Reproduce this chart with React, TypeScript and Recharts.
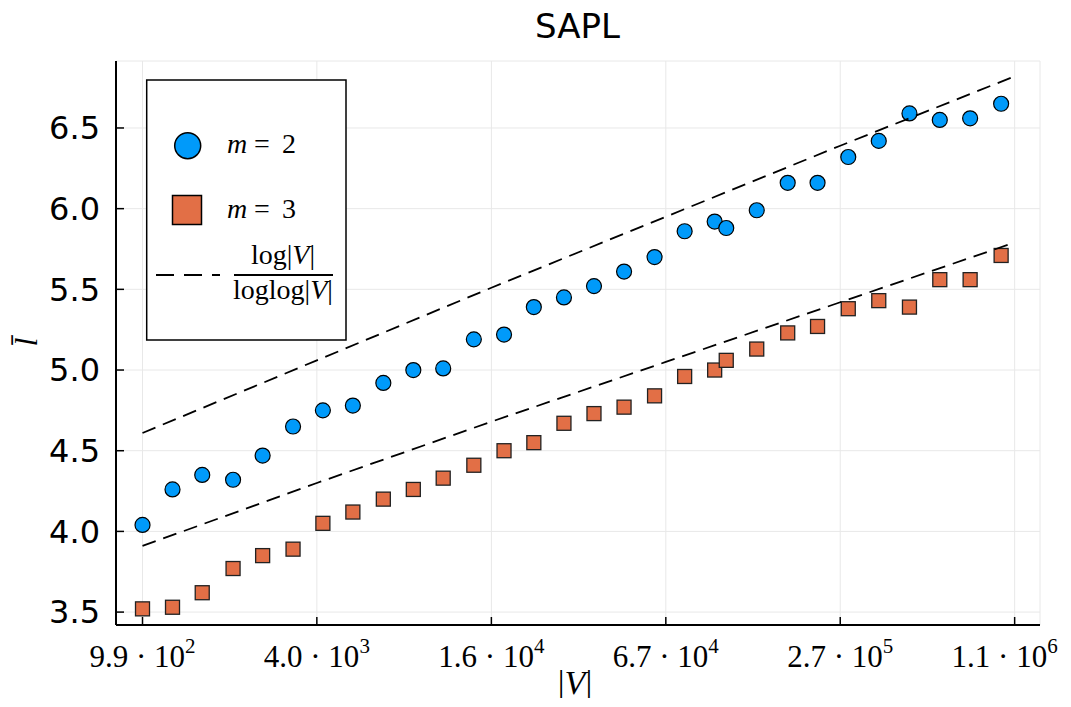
import { ScatterChart, Scatter, XAxis, YAxis, CartesianGrid } from "recharts";

const W = 1063;
const H = 690;

// graph sizes |V|
const SIZES = [
  990, 1260, 1600, 2050, 2600, 3320, 4220, 5370, 6860, 8730, 11100, 14200, 18100, 23000, 29300,
  37300, 47500, 60700, 77300, 98400, 108000, 138000, 177000, 225000, 288000, 368000, 471000,
  601000, 767000, 984000,
];

// mean path length for m = 2 and m = 3
const MEAN_L_M2 = [
  4.04, 4.26, 4.35, 4.32, 4.47, 4.65, 4.75, 4.78, 4.92, 5.0, 5.01, 5.19, 5.22, 5.39, 5.45, 5.52,
  5.61, 5.7, 5.86, 5.92, 5.88, 5.99, 6.16, 6.16, 6.32, 6.42, 6.59, 6.55, 6.56, 6.65,
];
const MEAN_L_M3 = [
  3.52, 3.53, 3.62, 3.77, 3.85, 3.89, 4.05, 4.12, 4.2, 4.26, 4.33, 4.41, 4.5, 4.55, 4.67, 4.73,
  4.77, 4.84, 4.96, 5.0, 5.06, 5.13, 5.23, 5.27, 5.38, 5.43, 5.39, 5.56, 5.56, 5.71,
];

// log|V| / loglog|V| guide curves (two scalings)
const REF_SIZES = [990, 4020, 16350, 66450, 270000, 1097000];
const REF_HIGH = [4.61, 5.06, 5.51, 5.95, 6.39, 6.82];
const REF_LOW = [3.91, 4.3, 4.68, 5.05, 5.42, 5.79];

const X_TICKS = [990, 4020, 16350, 66450, 270000, 1097000];
const X_TICK_MANTISSA = ["9.9", "4.0", "1.6", "6.7", "2.7", "1.1"];
const X_TICK_EXPONENT = ["2", "3", "4", "4", "5", "6"];
const Y_TICKS = [3.5, 4.0, 4.5, 5.0, 5.5, 6.0, 6.5];

const BLUE = "#009AFA";
const ORANGE = "#E26F46";
const SERIF = "'Liberation Serif', 'DejaVu Serif', serif";
const SANS = "'DejaVu Sans', sans-serif";

const m2Data = SIZES.map((v, i) => ({ v, l: MEAN_L_M2[i] }));
const m3Data = SIZES.map((v, i) => ({ v, l: MEAN_L_M3[i] }));
const refHigh = REF_SIZES.map((v, i) => ({ v, l: REF_HIGH[i] }));
const refLow = REF_SIZES.map((v, i) => ({ v, l: REF_LOW[i] }));

const CircleMark = (p: any) => (
  <circle cx={p.cx} cy={p.cy} r={7.5} fill={BLUE} stroke="#000" strokeWidth={1.2} />
);
const SquareMark = (p: any) => (
  <rect x={p.cx - 7} y={p.cy - 7} width={14} height={14} fill={ORANGE} stroke="#222" strokeWidth={1.3} />
);
const NoMark = () => <g />;

function XTick(props: any) {
  const { x, y, payload } = props;
  const i = X_TICKS.indexOf(payload.value);
  // keep the last label inside the canvas
  const shift = i === X_TICKS.length - 1 ? -10 : 0;
  return (
    <text x={x + shift} y={y} textAnchor="middle" fontFamily={SERIF} fontSize={31} fill="#000">
      {X_TICK_MANTISSA[i]} · 10
      <tspan dy={-14} fontSize={21}>
        {X_TICK_EXPONENT[i]}
      </tspan>
    </text>
  );
}

const dashed = { stroke: "#000", strokeWidth: 1.8, strokeDasharray: "14 8" };

export default function App() {
  return (
    <div style={{ position: "relative", width: W, height: H }}>
      <ScatterChart width={W} height={H} margin={{ top: 53, right: 31, bottom: 0, left: 0 }}>
        <CartesianGrid stroke="#e8e8e8" strokeWidth={1} />
        <XAxis
          dataKey="v"
          type="number"
          scale="log"
          domain={[800, 1345000]}
          allowDataOverflow
          ticks={X_TICKS}
          interval={0}
          height={73}
          tickSize={-8}
          tickMargin={50}
          axisLine={{ stroke: "#000", strokeWidth: 2 }}
          tickLine={{ stroke: "#000", strokeWidth: 1.5 }}
          tick={<XTick />}
        />
        <YAxis
          dataKey="l"
          type="number"
          domain={[3.42, 6.915]}
          allowDataOverflow
          ticks={Y_TICKS}
          interval={0}
          width={108}
          tickSize={-8}
          tickMargin={24}
          tickFormatter={(v: number) => v.toFixed(1)}
          axisLine={{ stroke: "#000", strokeWidth: 2 }}
          tickLine={{ stroke: "#000", strokeWidth: 1.5 }}
          tick={{ fill: "#000", fontSize: 32, fontFamily: SANS }}
        />
        <Scatter data={m2Data} shape={CircleMark} isAnimationActive={false} />
        <Scatter data={m3Data} shape={SquareMark} isAnimationActive={false} />
        <Scatter data={refHigh} line={dashed} lineType="joint" shape={NoMark} isAnimationActive={false} />
        <Scatter data={refLow} line={dashed} lineType="joint" shape={NoMark} isAnimationActive={false} />
      </ScatterChart>

      {/* title, axis labels and legend, in page coordinates */}
      <svg
        width={1071}
        height={707}
        style={{ position: "absolute", left: -8, top: -8, pointerEvents: "none" }}
      >
        <text x={577.5} y={38} textAnchor="middle" fontFamily={SANS} fontSize={34} fill="#000">
          SAPL
        </text>
        <text x={575} y={694} textAnchor="middle" fontFamily={SERIF} fontSize={34} fill="#000">
          |<tspan fontStyle="italic">V</tspan>|
        </text>
        <text
          x={26}
          y={342}
          textAnchor="middle"
          dominantBaseline="central"
          fontFamily={SERIF}
          fontStyle="italic"
          fontSize={32}
          fill="#000"
          transform="rotate(-90 26 342)"
        >
          l̄
        </text>

        {/* legend */}
        <rect x={146.7} y={80} width={199.3} height={260} fill="#fff" stroke="#000" strokeWidth={1.5} />
        <circle cx={187.7} cy={145.7} r={13} fill={BLUE} stroke="#000" strokeWidth={1.5} />
        <text y={153} fontFamily={SERIF} fontSize={28} fill="#000">
          <tspan x={227} fontStyle="italic">m</tspan>
          <tspan x={254}>=</tspan>
          <tspan x={282}>2</tspan>
        </text>
        <rect x={172.5} y={195.5} width={29} height={29} fill={ORANGE} stroke="#000" strokeWidth={1.5} />
        <text y={217.5} fontFamily={SERIF} fontSize={28} fill="#000">
          <tspan x={227} fontStyle="italic">m</tspan>
          <tspan x={254}>=</tspan>
          <tspan x={282}>3</tspan>
        </text>
        <line x1={156} y1={275} x2={220} y2={275} stroke="#000" strokeWidth={1.8} strokeDasharray="18 10" />
        <text x={283} y={264} textAnchor="middle" fontFamily={SERIF} fontSize={28} fill="#000">
          log|<tspan fontStyle="italic">V</tspan>|
        </text>
        <line x1={234} y1={275} x2={333} y2={275} stroke="#000" strokeWidth={1.8} />
        <text x={283} y={299} textAnchor="middle" fontFamily={SERIF} fontSize={28} fill="#000">
          loglog|<tspan fontStyle="italic">V</tspan>|
        </text>
      </svg>
    </div>
  );
}
